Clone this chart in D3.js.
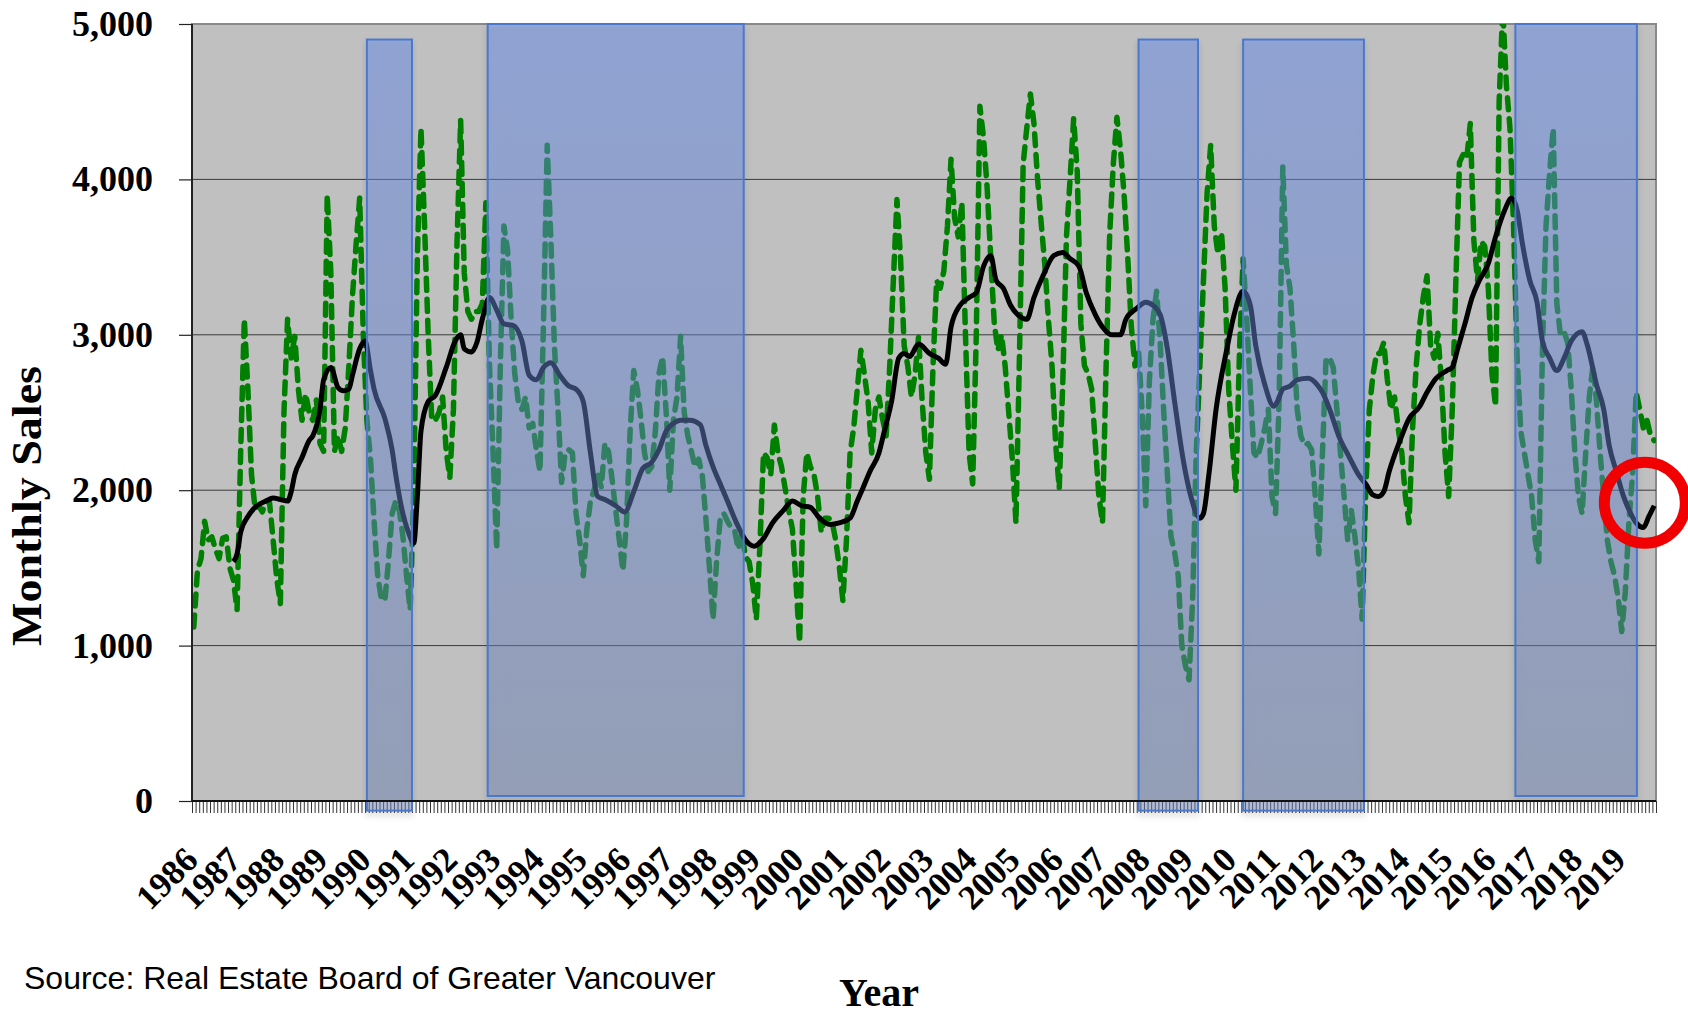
<!DOCTYPE html>
<html>
<head>
<meta charset="utf-8">
<script src="https://d3js.org/d3.v7.min.js"></script>
<style>
  body { margin: 0; background: #fff; }
  svg { display: block; }
</style>
</head>
<body>
<div id="chart"></div>
<script>
// year labels on the category axis (one label every 12 months)
const years = [1986, 1987, 1988, 1989, 1990, 1991, 1992, 1993, 1994, 1995, 1996, 1997,
  1998, 1999, 2000, 2001, 2002, 2003, 2004, 2005, 2006, 2007, 2008, 2009, 2010, 2011,
  2012, 2013, 2014, 2015, 2016, 2017, 2018, 2019];

// monthly sales, Jan 1986 .. Oct 2019
const monthlySales = [
  1120, 1480, 1560, 1800, 1680, 1700, 1620, 1560, 1690, 1700, 1500, 1420, // 1986
  1230, 2250, 3100, 2650, 2100, 1880, 1900, 1860, 1930, 1920, 1680, 1430, // 1987
  1270, 2500, 3100, 2850, 2990, 2650, 2450, 2620, 2500, 2450, 2580, 2300, // 1988
  2250, 3900, 3400, 2250, 2350, 2250, 2400, 2800, 3250, 3580, 3880, 3000, // 1989
  2450, 2200, 1800, 1450, 1300, 1290, 1550, 1850, 1930, 1870, 1700, 1450, // 1990
  1230, 2000, 3500, 4330, 3700, 3000, 2450, 2450, 2500, 2600, 2250, 2080, // 1991
  2520, 3600, 4380, 3400, 3150, 3100, 3150, 3150, 3200, 3850, 2800, 2240, // 1992
  1620, 2800, 3700, 3550, 3100, 2750, 2570, 2520, 2600, 2400, 2430, 2260, // 1993
  2120, 3100, 4220, 3630, 2930, 2520, 2050, 2240, 2260, 2240, 1850, 1680, // 1994
  1450, 1750, 1930, 2000, 2100, 2020, 2300, 2250, 2070, 1870, 1680, 1480, // 1995
  1800, 2380, 2770, 2650, 2460, 2240, 2120, 2150, 2380, 2750, 2860, 2500, // 1996
  2000, 2450, 2600, 2990, 2500, 2350, 2250, 2150, 2200, 2100, 1820, 1500, // 1997
  1170, 1550, 1820, 1850, 1800, 1760, 1740, 1620, 1730, 1570, 1540, 1400, // 1998
  1170, 1650, 2240, 2210, 2100, 2420, 2240, 2150, 2010, 1870, 1750, 1400, // 1999
  1020, 1960, 2240, 2150, 2100, 1960, 1730, 1820, 1820, 1800, 1680, 1510, // 2000
  1290, 1680, 2240, 2400, 2650, 2900, 2740, 2570, 2240, 2520, 2600, 2460, // 2001
  2350, 2800, 3350, 3870, 3490, 2930, 2800, 2600, 2740, 2990, 2570, 2240, // 2002
  2070, 2800, 3350, 3300, 3410, 3700, 4130, 3750, 3630, 3850, 3000, 2240, // 2003
  2040, 3000, 4470, 4270, 3950, 3500, 3070, 2900, 3000, 2800, 2500, 2200, // 2004
  1790, 2900, 4100, 4330, 4550, 4360, 4000, 3720, 3450, 3100, 2800, 2300, // 2005
  2010, 2700, 3630, 4000, 4390, 4050, 3070, 2800, 2750, 2650, 2300, 1960, // 2006
  1790, 2800, 3650, 4100, 4400, 4190, 3900, 3500, 3050, 2800, 2900, 2500, // 2007
  1900, 2700, 3100, 3280, 2950, 2500, 2100, 1700, 1600, 1450, 1000, 870,  // 2008
  780, 1300, 2240, 2800, 3350, 3910, 4220, 3700, 3520, 3660, 3300, 2650,  // 2009
  2300, 2000, 2900, 3490, 3100, 2650, 2240, 2210, 2300, 2400, 2520, 1960, // 2010
  1850, 2600, 4080, 3450, 3300, 2950, 2520, 2350, 2290, 2300, 2260, 1960, // 2011
  1590, 2240, 2850, 2850, 2790, 2520, 2240, 1960, 1680, 1870, 1700, 1500, // 2012
  1170, 2000, 2520, 2740, 2880, 2880, 2950, 2710, 2520, 2600, 2400, 2240, // 2013
  1960, 1790, 2400, 2800, 3070, 3250, 3380, 2930, 2850, 3010, 2700, 2240, // 2014
  1960, 2520, 3350, 4110, 4160, 4130, 4360, 3600, 3350, 3600, 3570, 3300, // 2015
  2750, 2540, 4500, 5100, 4610, 4330, 3700, 2850, 2380, 2240, 2100, 1960, // 2016
  1680, 1540, 2900, 3700, 4050, 4330, 3200, 3000, 3020, 2950, 2650, 2240, // 2017
  1960, 1850, 2240, 2600, 2800, 2570, 2240, 1960, 1680, 1540, 1450, 1310, // 2018
  1090, 1350, 1800, 2100, 2630, 2520, 2400, 2450, 2350, 2320              // 2019
];

// 12-month moving average, sampled along the curve (month index, sales)
const maMonth = [11, 12, 13, 15, 17, 20, 22, 24, 26, 27, 28, 30, 32, 33, 35, 36, 38, 40,
  41.5, 43, 44, 46, 47.5, 49, 50, 53, 55, 56, 57.5, 59.5, 61, 62, 63, 65, 67, 70, 72.5, 74,
  75, 77, 78.5, 80, 82, 84, 86, 88.5, 91, 93, 95, 97, 99, 101.5, 104, 106, 108, 110, 112,
  114, 117, 119.5, 122, 124.5, 127, 129, 131, 133, 135, 137.5, 140.5, 142, 144, 146, 148,
  150.5, 153, 155.5, 158, 160.5, 163.5, 166, 168.5, 171, 173.5, 176.5, 179, 182, 184,
  185.5, 187.5, 190, 191.5, 193.5, 195.5, 197, 198.5, 201, 204, 206.5, 208.5, 210, 212.5,
  215, 217, 219, 221, 222.5, 224.5, 226.5, 228.5, 231, 233, 235.5, 238.5, 241, 243, 245.5,
  247.5, 250, 252, 254.5, 257, 258.5, 261.5, 264, 266, 268, 270, 272, 274.5, 276.5, 279,
  280, 281.5, 283.5, 286.5, 288.5, 291, 293, 294.5, 297, 299.5, 300.5, 302, 304, 306, 309,
  311.5, 313, 315, 317.5, 320.5, 323, 325, 327, 328.5, 330, 331.5, 334.5, 337, 340, 342,
  344.5, 347.5, 349, 350.5, 352.5, 354.5, 356.5, 359, 361, 363.5, 365.5, 367, 368.5,
  370.5, 372.5, 374, 376, 378, 380, 382, 385, 386.5, 389, 391, 392.5, 394.5, 396.5, 398.5,
  400, 402, 403.5, 405];
const maSales = [1540, 1590, 1730, 1830, 1890, 1930, 1950, 1940, 1930, 1990, 2100, 2210,
  2320, 2350, 2520, 2710, 2790, 2660, 2640, 2650, 2740, 2910, 2960, 2770, 2650, 2460, 2260,
  2100, 1900, 1730, 1660, 1960, 2380, 2570, 2610, 2790, 2960, 3000, 2910, 2890, 2950, 3100,
  3240, 3160, 3070, 3060, 2960, 2740, 2710, 2790, 2820, 2740, 2670, 2650, 2570, 2240, 1960,
  1940, 1900, 1860, 1990, 2140, 2180, 2260, 2380, 2430, 2450, 2450, 2420, 2290, 2150, 2040,
  1930, 1790, 1680, 1640, 1690, 1790, 1870, 1930, 1900, 1890, 1820, 1780, 1790, 1820, 1930,
  2010, 2120, 2240, 2380, 2570, 2850, 2880, 2860, 2940, 2880, 2850, 2810, 3050, 3190, 3240,
  3270, 3440, 3510, 3350, 3300, 3190, 3130, 3100, 3240, 3380, 3510, 3530, 3490, 3440, 3270,
  3130, 3050, 3000, 3000, 3100, 3170, 3210, 3190, 3130, 2910, 2570, 2180, 1960, 1820, 1850,
  2100, 2520, 2910, 3130, 3280, 3190, 2930, 2680, 2540, 2570, 2650, 2670, 2710, 2720, 2680,
  2630, 2520, 2350, 2210, 2100, 2040, 1970, 1960, 1990, 2120, 2320, 2460, 2540, 2630, 2720,
  2770, 2790, 2910, 3070, 3240, 3350, 3460, 3630, 3800, 3880, 3800, 3580, 3350, 3210, 2960,
  2850, 2770, 2850, 2960, 3020, 2930, 2680, 2520, 2290, 2120, 1960, 1850, 1790, 1760, 1830,
  1900];

// shaded periods (month index start/end, sales top/bottom)
const boxStart = [48, 81.5, 262, 291, 366.5];
const boxEnd = [60.5, 152.5, 278.5, 324.5, 400.2];
const boxTop = [4900, 5000, 4900, 4900, 5000];
const boxBottom = [-62, 32, -62, -62, 32];

const yTicks = [0, 1000, 2000, 3000, 4000, 5000];

// red ring around the latest readings
const highlightMonth = 402.4;
const highlightSales = 1920;

const width = 1688, height = 1017;
const margin = {top: 24, right: 32, bottom: 216, left: 192};
const serif = "'Liberation Serif', 'Times New Roman', serif";

const svg = d3.select('#chart').append('svg')
  .attr('width', width)
  .attr('height', height);

const n = monthlySales.length;
const x = d3.scaleLinear()
  .domain([-0.5, n - 0.5])
  .range([margin.left, width - margin.right]);
const y = d3.scaleLinear()
  .domain([0, 5000])
  .range([height - margin.bottom, margin.top]);

const defs = svg.append('defs');
defs.append('clipPath').attr('id', 'plotclip')
  .append('rect')
  .attr('x', x.range()[0]).attr('y', y(5000))
  .attr('width', x.range()[1] - x.range()[0])
  .attr('height', y(0) - y(5000));

const grad = defs.append('linearGradient')
  .attr('id', 'boxfill')
  .attr('x1', 0).attr('y1', 0).attr('x2', 0).attr('y2', 1);
grad.append('stop').attr('offset', '0%').attr('stop-color', 'rgb(100,140,238)').attr('stop-opacity', 0.46);
grad.append('stop').attr('offset', '100%').attr('stop-color', 'rgb(108,130,178)').attr('stop-opacity', 0.46);

const shadow = defs.append('filter').attr('id', 'shadow')
  .attr('x', '-10%').attr('y', '-10%').attr('width', '120%').attr('height', '120%');
shadow.append('feDropShadow')
  .attr('dx', 0).attr('dy', 4).attr('stdDeviation', 3)
  .attr('flood-color', '#000').attr('flood-opacity', 0.18);

// plot background
svg.append('rect')
  .attr('x', x.range()[0]).attr('y', y(5000))
  .attr('width', x.range()[1] - x.range()[0])
  .attr('height', y(0) - y(5000))
  .attr('fill', '#c0c0c0')
  .attr('stroke', '#8a8a8a')
  .attr('stroke-width', 2);

// gridlines
svg.append('g')
  .selectAll('line')
  .data(yTicks.filter(d => d > 0 && d < 5000))
  .join('line')
  .attr('x1', x.range()[0]).attr('x2', x.range()[1])
  .attr('y1', d => y(d)).attr('y2', d => y(d))
  .attr('stroke', '#3a3a3a')
  .attr('stroke-width', 1);

// monthly sales (dashed green)
const salesLine = d3.line()
  .x((d, i) => x(i))
  .y(d => y(d));

svg.append('path')
  .datum(monthlySales)
  .attr('clip-path', 'url(#plotclip)')
  .attr('fill', 'none')
  .attr('stroke', '#008000')
  .attr('stroke-width', 5.5)
  .attr('stroke-linecap', 'round')
  .attr('stroke-linejoin', 'round')
  .attr('stroke-dasharray', '12,9')
  .attr('d', salesLine);

// moving average (solid black)
const maLine = d3.line()
  .x(d => x(d[0]))
  .y(d => y(d[1]))
  .curve(d3.curveMonotoneX);

svg.append('path')
  .datum(d3.zip(maMonth, maSales))
  .attr('fill', 'none')
  .attr('stroke', '#000')
  .attr('stroke-width', 5)
  .attr('stroke-linejoin', 'round')
  .attr('d', maLine);

// x axis comb of monthly ticks
svg.append('g')
  .attr('transform', `translate(0, ${y(0)})`)
  .call(d3.axisBottom(x)
    .tickValues(d3.range(n + 1).map(k => k - 0.5))
    .tickSize(12)
    .tickFormat(''))
  .call(g => g.select('.domain').remove())
  .call(g => g.selectAll('.tick line').attr('stroke', '#333').attr('stroke-width', 1));

// shaded periods drawn over the lines
svg.append('g')
  .selectAll('rect')
  .data(d3.range(boxStart.length))
  .join('rect')
  .attr('x', i => x(boxStart[i]))
  .attr('y', i => y(boxTop[i]))
  .attr('width', i => x(boxEnd[i]) - x(boxStart[i]))
  .attr('height', i => y(boxBottom[i]) - y(boxTop[i]))
  .attr('fill', 'url(#boxfill)')
  .attr('stroke', '#4a78cc')
  .attr('stroke-width', 2)
  .attr('filter', 'url(#shadow)');

// axis lines
svg.append('line')
  .attr('x1', x.range()[0]).attr('x2', x.range()[0])
  .attr('y1', y(5000)).attr('y2', y(0))
  .attr('stroke', '#222').attr('stroke-width', 2);
svg.append('line')
  .attr('x1', x.range()[0]).attr('x2', x.range()[1])
  .attr('y1', y(0)).attr('y2', y(0))
  .attr('stroke', '#111').attr('stroke-width', 2);

// y axis
svg.append('g')
  .attr('transform', `translate(${x.range()[0]}, 0)`)
  .call(d3.axisLeft(y)
    .tickValues(yTicks)
    .tickSize(13)
    .tickPadding(26)
    .tickFormat(d3.format(',')))
  .call(g => g.select('.domain').remove())
  .call(g => g.selectAll('.tick line').attr('stroke', '#222').attr('stroke-width', 1.2))
  .call(g => g.selectAll('.tick text')
    .attr('fill', '#000')
    .attr('font-family', serif)
    .attr('font-weight', 'bold')
    .attr('font-size', 36));

// year labels, rotated
svg.append('g')
  .selectAll('text')
  .data(years)
  .join('text')
  .attr('transform', (d, i) => `translate(${x(i * 12) + 6}, 862) rotate(-45)`)
  .attr('text-anchor', 'end')
  .attr('font-family', serif)
  .attr('font-weight', 'bold')
  .attr('font-size', 35)
  .attr('fill', '#000')
  .text(d => d);

// axis titles
svg.append('text')
  .attr('transform', 'translate(41, 506) rotate(-90)')
  .attr('text-anchor', 'middle')
  .attr('font-family', serif)
  .attr('font-weight', 'bold')
  .attr('font-size', 42)
  .attr('textLength', 280)
  .attr('lengthAdjust', 'spacingAndGlyphs')
  .text('Monthly Sales');

svg.append('text')
  .attr('x', 879).attr('y', 1006)
  .attr('text-anchor', 'middle')
  .attr('font-family', serif)
  .attr('font-weight', 'bold')
  .attr('font-size', 40)
  .text('Year');

svg.append('text')
  .attr('x', 24).attr('y', 989)
  .attr('font-family', "'Liberation Sans', Arial, sans-serif")
  .attr('font-size', 32)
  .attr('fill', '#000')
  .text('Source: Real Estate Board of Greater Vancouver');

// red ring annotation
svg.append('circle')
  .attr('cx', x(highlightMonth))
  .attr('cy', y(highlightSales))
  .attr('r', 40.5)
  .attr('fill', 'none')
  .attr('stroke', '#f00000')
  .attr('stroke-width', 11);
</script>
</body>
</html>
